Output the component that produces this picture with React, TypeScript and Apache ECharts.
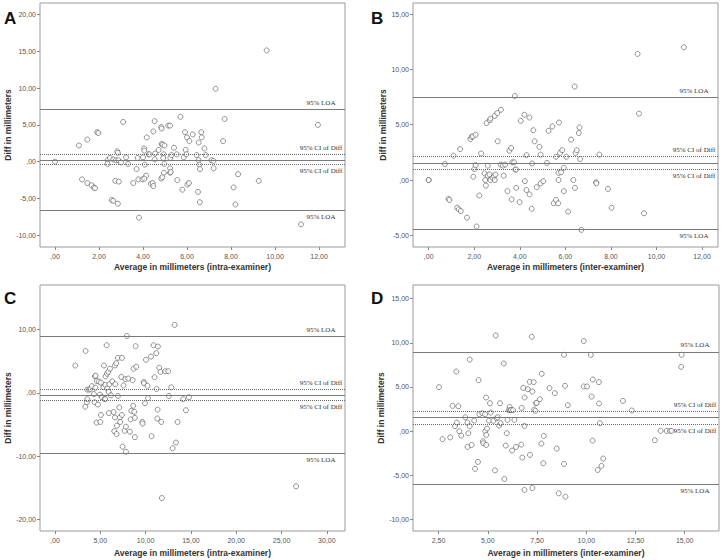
import { useEffect, useRef } from "react";
import * as echarts from "echarts";

// ---------- Panel A (intra-examiner) ----------
const aX = [0, 1.09, 1.47, 1.92, 1.97, 1.23, 1.47, 1.67, 1.77, 1.82, 3.1, 2.39, 2.39, 2.5, 2.65, 2.77, 2.83, 2.86, 2.88, 3.0,
  2.74, 2.9, 2.58, 2.65, 2.86, 3.23, 3.32, 3.56, 3.71, 3.76, 3.79, 3.82, 3.97, 4.0, 4.05, 4.06, 4.08, 4.14, 4.06, 4.17,
  4.26, 4.3, 4.36, 4.44, 4.47, 4.47, 4.53, 4.53, 4.55, 4.71, 4.83, 4.85, 4.85, 4.89, 4.83, 4.88, 4.94, 4.92, 4.95, 4.98,
  4.97, 5.15, 5.23, 5.23, 5.23, 5.26, 5.24, 5.3, 5.41, 5.53, 5.56, 5.7, 5.79, 5.85, 5.91, 5.94, 5.97, 6.0, 6.02, 6.09,
  6.11, 6.26, 6.44, 6.5, 6.53, 6.53, 6.56, 6.58, 6.59, 6.65, 6.67, 6.79, 6.85, 7.11, 7.2, 7.21, 7.64, 7.71, 8.12, 8.2,
  8.32, 9.26, 11.18, 9.62, 7.3, 11.95];
const aY = [0, 2.2, 3.0, 4.0, 3.9, -2.4, -2.9, -3.2, -3.5, -3.6, 5.4, 0.2, -0.3, 0.5, 0.3, 0.2, 1.4, 1.2, 0.2, -0.1,
  -2.6, -2.7, -5.2, -5.3, -5.7, 0.6, -0.3, -2.9, -1.0, 0.5, -2.4, -7.6, -2.4, 0.6, 1.8, 1.5, -0.4, -1.9, -2.3, 3.3,
  1.0, 1.0, -3.0, -2.9, -3.3, 4.1, 5.5, 0.3, 1.1, 1.6, 4.7, 4.5, 2.4, 2.3, -2.3, -2.1, 1.0, 0.5, -1.5, 2.2,
  -0.3, 4.9, 4.9, -0.9, -1.5, -1.4, 0.5, 0.9, 1.9, 1.0, -2.5, 6.1, -3.8, 0.6, 4.0, 1.6, 1.0, 3.3, -3.1, -2.9,
  2.8, 3.7, 0.9, -4.1, 2.6, 0.2, -0.4, -5.5, -1.0, 4.0, 3.3, 1.8, 0.9, 0.2, 0.1, -0.9, 2.8, 5.8, -3.5, -5.8,
  -1.7, -2.6, -8.5, 15.1, 9.9, 5.0];
// LOA upper, CI upper, mean, CI lower, LOA lower
const aRef = [7.06, 0.95, 0.23, -0.41, -6.56];
const aXTicks = [0, 2, 4, 6, 8, 10, 12];
const aYTicks = [-10, -5, 0, 5, 10, 15, 20];

// ---------- Panel B (inter-examiner) ----------
const bX = [0, 0, 0.71, 0.87, 0.91, 1.09, 1.25, 1.32, 1.38, 1.41, 1.68, 1.83, 1.88, 1.94, 1.96, 2.0, 2.06, 2.06, 2.1, 2.22,
  2.3, 2.45, 2.48, 2.51, 2.54, 2.59, 2.59, 2.67, 2.68, 2.71, 2.71, 2.8, 2.87, 2.9, 2.9, 2.93, 3.01, 3.03, 3.17, 3.16,
  3.26, 3.29, 3.36, 3.46, 3.54, 3.62, 3.64, 3.67, 3.75, 3.78, 3.8, 3.83, 3.84, 3.99, 4.04, 4.2, 4.22, 4.29, 4.29, 4.42,
  4.43, 4.52, 4.54, 4.59, 4.65, 4.74, 4.86, 4.91, 4.91, 5.03, 5.19, 5.26, 5.43, 5.49, 5.59, 5.59, 5.68, 5.7, 5.72, 5.7,
  5.77, 5.81, 5.86, 5.93, 5.93, 6.04, 6.12, 6.25, 6.35, 6.41, 6.42, 6.45, 6.5, 6.59, 6.62, 6.65, 6.7, 7.49, 7.35, 7.36,
  7.87, 8.03, 9.17, 9.23, 9.45, 11.2];
const bY = [0, 0, 1.45, -1.7, -1.8, 2.2, -2.5, -2.65, 2.8, -2.8, -3.4, 3.7, 3.9, 3.95, 0.3, 1.0, 4.1, 1.35, -4.2, -1.4,
  2.4, 0.6, 0.0, -0.5, 5.15, 1.3, 0.4, 0.5, 5.4, 5.55, 0.0, 0.2, 0.35, 5.8, 0.0, 0.5, 6.05, 3.5, 6.35, 1.4,
  1.3, 0.4, 1.4, -1.0, 2.65, 2.9, -1.75, 1.6, 1.6, 7.6, 0.95, 0.95, -0.7, -2.0, 5.35, 5.9, -0.1, 2.25, -0.9, 5.65,
  -1.3, -2.6, 1.5, 4.5, 3.5, -0.65, 3.0, 2.3, -0.3, -0.1, 1.55, 4.45, 4.85, -2.1, 2.1, -1.8, -2.1, 0.0, 5.2, 0.65,
  2.45, 0.7, 2.7, 1.1, -1.0, 2.1, -2.85, 3.65, 0.0, 8.45, -0.7, 2.45, 2.7, 4.25, 4.75, 1.9, -4.5, 2.3, -0.2, -0.3,
  -0.8, -2.5, 11.4, 6.0, -3.0, 12.0];
const bRef = [7.47, 2.14, 1.54, 0.99, -4.43];
const bXTicks = [0, 2, 4, 6, 8, 10, 12];
const bYTicks = [-5, 0, 5, 10, 15];

// ---------- Panel C (intra-examiner) ----------
const cX = [2.24, 3.38, 3.35, 3.53, 3.57, 3.57, 3.79, 3.9, 4.08, 4.3, 4.38, 4.41, 4.49, 4.45, 4.6, 4.63, 4.74, 4.85, 4.96, 5.0,
  5.07, 5.07, 5.18, 5.33, 5.4, 5.48, 5.55, 5.55, 5.59, 5.7, 5.74, 5.77, 5.88, 5.92, 5.96, 6.0, 6.07, 6.18, 6.32, 6.47,
  6.54, 6.62, 6.62, 6.65, 6.76, 6.8, 6.84, 6.95, 6.95, 7.1, 7.17, 7.2, 7.32, 7.39, 7.39, 7.46, 7.57, 7.68, 7.76, 7.83,
  7.83, 7.94, 8.09, 8.27, 8.35, 8.42, 8.57, 8.64, 8.68, 8.75, 8.82, 8.82, 8.9, 8.97, 9.63, 9.67, 9.78, 9.82, 9.93, 10.04,
  10.22, 10.26, 10.59, 10.66, 10.88, 10.99, 11.18, 11.21, 11.32, 11.36, 11.29, 11.5, 11.65, 11.73, 11.8, 12.17, 12.5, 12.57, 12.83, 12.98,
  13.2, 13.35, 13.53, 14.15, 14.45, 14.78, 26.6];
const cY = [4.3, 6.6, -2.2, -1.5, -1.0, 0.5, 0.5, 0.6, 1.05, -0.2, -1.5, 2.6, 2.7, 0.8, -4.7, 1.85, -1.85, 1.75, -0.3, -4.6,
  1.6, -3.5, -0.7, 0.9, 4.3, -0.95, -1.0, 1.25, 2.6, 7.5, 3.0, 0.7, 3.3, 0.15, -3.2, 1.35, 3.8, -0.4, 1.8, -3.05,
  -6.05, 4.3, -3.9, 1.35, 4.65, -6.5, -5.2, -0.5, 5.5, -2.3, -3.9, -4.6, 2.5, 5.5, -3.5, -8.5, 1.15, -6.0, 2.15, -9.3,
  -5.35, 8.95, 2.25, -6.15, -4.2, -2.85, 2.0, -2.05, 3.8, -3.0, -3.95, -7.0, 7.35, 4.1, -4.6, -4.85, 1.7, 1.5, -1.65, 5.2,
  1.1, -0.85, 5.7, -6.85, 7.5, 2.45, 6.25, 0.6, -2.65, 7.3, -4.05, 3.95, 3.3, -4.6, -16.6, 3.4, 3.4, -0.5, 0.85, -8.75,
  10.7, -7.85, -4.6, -1.0, -2.75, -0.7, -14.75];
const cRef = [8.84, 0.58, -0.37, -1.2, -9.53];
const cXTicks = [0, 5, 10, 15, 20, 25, 30];
const cYTicks = [-20, -10, 0, 10];

// ---------- Panel D (inter-examiner) ----------
const dX = [2.52, 2.7, 3.09, 3.21, 3.33, 3.4, 3.43, 3.5, 3.55, 3.65, 3.86, 3.96, 3.97, 4.01, 4.08, 4.08, 4.18, 4.31, 4.35, 4.5,
  4.53, 4.57, 4.72, 4.75, 4.77, 4.86, 4.87, 4.91, 4.92, 4.92, 4.96, 5.06, 5.11, 5.14, 5.28, 5.36, 5.4, 5.45, 5.5, 5.57,
  5.62, 5.65, 5.81, 5.84, 5.91, 5.96, 6.0, 6.06, 6.11, 6.13, 6.18, 6.23, 6.28, 6.35, 6.43, 6.7, 6.72, 6.75, 6.8, 6.86,
  6.86, 6.87, 7.03, 7.14, 7.13, 7.23, 7.26, 7.26, 7.33, 7.36, 7.42, 7.45, 7.48, 7.64, 7.72, 7.74, 7.82, 7.84, 8.13, 8.4,
  8.5, 8.6, 8.87, 8.87, 8.92, 8.94, 9.06, 9.87, 9.87, 10.04, 10.23, 10.27, 10.32, 10.33, 10.58, 10.64, 10.65, 10.69, 10.77, 10.86,
  11.86, 12.31, 13.48, 13.77, 14.08, 14.25, 14.33, 14.84, 14.82];
const dY = [4.98, -0.9, -0.7, 2.87, 0.57, 6.75, 0.98, 2.83, 0.0, -0.5, 1.58, 0.98, -1.77, -0.23, 0.57, 8.1, -1.55, 1.2, -4.26, -3.47,
  5.77, 1.92, 2.04, -1.13, -1.36, 1.92, 0.0, 3.81, -0.42, -1.55, 0.3, 1.2, 3.17, 2.11, 1.17, -4.42, 10.83, 1.47, 1.58, 0.64,
  3.17, 0.9, 7.66, -5.4, -1.62, -0.23, 1.28, 2.38, 2.75, 2.38, 2.38, -2.19, 2.38, 1.28, -1.77, -1.51, 2.64, -2.98, 4.9, 0.6,
  -6.64, 3.81, 4.75, -2.68, 5.58, 10.68, 4.49, -6.42, 5.55, 2.45, 2.3, 3.17, 3.2, 3.62, -1.4, 6.49, -3.62, -0.53, 4.87, 4.3,
  -1.96, -7.02, 8.64, -3.7, 5.13, -7.4, 2.94, 10.19, 5.06, 5.06, 8.64, 3.92, -1.06, 5.85, -4.38, 5.55, 3.13, 0.9, -3.92, -3.09,
  3.43, 2.34, -1.02, 0.04, 0.04, 0.04, 0.04, 8.64, 7.28];
const dRef = [8.98, 2.26, 1.55, 0.79, -6.04];
const dXTicks = [2.5, 5, 7.5, 10, 12.5, 15];
const dYTicks = [-10, -5, 0, 5, 10, 15];

const xTitleIntra = "Average in millimeters (intra-examiner)";
const xTitleInter = "Average in millimeters (inter-examiner)";
const yTitle = "Diff in millimeters";

const panels = [
  { letter: "A", xs: aX, ys: aY, ref: aRef, xt: aXTicks, yt: aYTicks, xTitle: xTitleIntra,
    grid: { left: 40, top: 3, width: 305, height: 244 }, xr: [-0.68, 13.18], yr: [-11.58, 21.54],
    yGap: 27, xGap: 15, lx: 4, ly: 10 },
  { letter: "B", xs: bX, ys: bY, ref: bRef, xt: bXTicks, yt: bYTicks, xTitle: xTitleInter,
    grid: { left: 413, top: 3, width: 305, height: 244 }, xr: [-0.69, 12.7], yr: [-6.05, 16.0],
    yGap: 22, xGap: 15, lx: 371, ly: 10 },
  { letter: "C", xs: cX, ys: cY, ref: cRef, xt: cXTicks, yt: cYTicks, xTitle: xTitleIntra,
    grid: { left: 40, top: 285, width: 305, height: 246 }, xr: [-1.65, 32.0], yr: [-21.8, 17.0],
    yGap: 27, xGap: 17, lx: 4, ly: 290 },
  { letter: "D", xs: dX, ys: dY, ref: dRef, xt: dXTicks, yt: dYTicks, xTitle: xTitleInter,
    grid: { left: 413, top: 285, width: 306, height: 246 }, xr: [1.2, 16.74], yr: [-11.28, 16.53],
    yGap: 23, xGap: 17, lx: 371, ly: 290 },
];

const fmt = (v: number) => {
  const a = Math.abs(v);
  let s = a.toFixed(2).replace(".", ",");
  if (a < 1) s = s.replace(/^0/, "");
  return (v < 0 ? "-" : "") + s;
};

const SANS = "Liberation Sans, Arial, sans-serif";
const SERIF = "Liberation Serif, Times New Roman, serif";

export default function App() {
  const ref = useRef<HTMLDivElement>(null);
  useEffect(() => {
    if (!ref.current) return;
    const chart = echarts.init(ref.current, undefined, { renderer: "svg" });
    const refLabel = {
      show: true,
      fontFamily: SERIF,
      fontSize: 7,
      color: "#333",
      align: "center",
      distance: [24, 3],
    };
    const solid = { type: "solid", color: "#7a7a7a", width: 1.2 };
    const dotted = { type: "dotted", color: "#6a6a6a", width: 1 };
    const option: any = {
      animation: false,
      backgroundColor: "#fff",
      grid: panels.map((p) => ({
        ...p.grid,
        show: true,
        borderColor: "#9a9a9a",
        borderWidth: 1,
        backgroundColor: "#fff",
        containLabel: false,
      })),
      xAxis: panels.map((p, i) => ({
        type: "value",
        gridIndex: i,
        min: p.xr[0],
        max: p.xr[1],
        position: "bottom",
        splitLine: { show: false },
        axisLine: { show: false, onZero: false },
        axisTick: { show: true, length: 3, customValues: p.xt, lineStyle: { color: "#888" } },
        axisLabel: {
          customValues: p.xt,
          formatter: fmt,
          fontFamily: SANS,
          fontSize: 7,
          color: "#555",
          margin: 6,
        },
        name: p.xTitle,
        nameLocation: "middle",
        nameGap: p.xGap,
        nameTextStyle: { fontFamily: SANS, fontSize: 8.5, fontWeight: "bold", color: "#333" },
      })),
      yAxis: panels.map((p, i) => ({
        type: "value",
        gridIndex: i,
        min: p.yr[0],
        max: p.yr[1],
        position: "left",
        splitLine: { show: false },
        axisLine: { show: false, onZero: false },
        axisTick: { show: true, length: 3, customValues: p.yt, lineStyle: { color: "#888" } },
        axisLabel: {
          customValues: p.yt,
          formatter: fmt,
          fontFamily: SANS,
          fontSize: 7,
          color: "#555",
          margin: 4,
        },
        name: yTitle,
        nameLocation: "middle",
        nameRotate: 90,
        nameGap: p.yGap,
        nameTextStyle: { fontFamily: SANS, fontSize: 8.5, fontWeight: "bold", color: "#333" },
      })),
      series: panels.map((p, i) => ({
        type: "scatter",
        xAxisIndex: i,
        yAxisIndex: i,
        data: p.xs.map((x, j) => [x, p.ys[j]]),
        symbol: "circle",
        symbolSize: 5,
        itemStyle: { color: "#fff", borderColor: "#555", borderWidth: 0.8 },
        markLine: {
          silent: true,
          symbol: ["none", "none"],
          animation: false,
          data: [
            { yAxis: p.ref[0], lineStyle: solid, label: { ...refLabel, formatter: "95% LOA", position: "insideEndTop" } },
            { yAxis: p.ref[1], lineStyle: dotted, label: { ...refLabel, formatter: "95% CI of Diff", position: "insideEndTop" } },
            { yAxis: p.ref[2], lineStyle: solid, label: { show: false } },
            { yAxis: p.ref[3], lineStyle: dotted, label: { ...refLabel, formatter: "95% CI of Diff", position: "insideEndBottom" } },
            { yAxis: p.ref[4], lineStyle: solid, label: { ...refLabel, formatter: "95% LOA", position: "insideEndBottom" } },
          ],
        },
      })),
      graphic: panels.map((p) => ({
        type: "text",
        left: p.lx,
        top: p.ly,
        style: { text: p.letter, font: "bold 17px " + SANS, fill: "#111" },
      })),
    };
    chart.setOption(option);
    return () => chart.dispose();
  }, []);
  return (
    <div
      ref={ref}
      style={{ position: "fixed", left: 0, top: 0, width: 723, height: 560, background: "#fff" }}
    />
  );
}
